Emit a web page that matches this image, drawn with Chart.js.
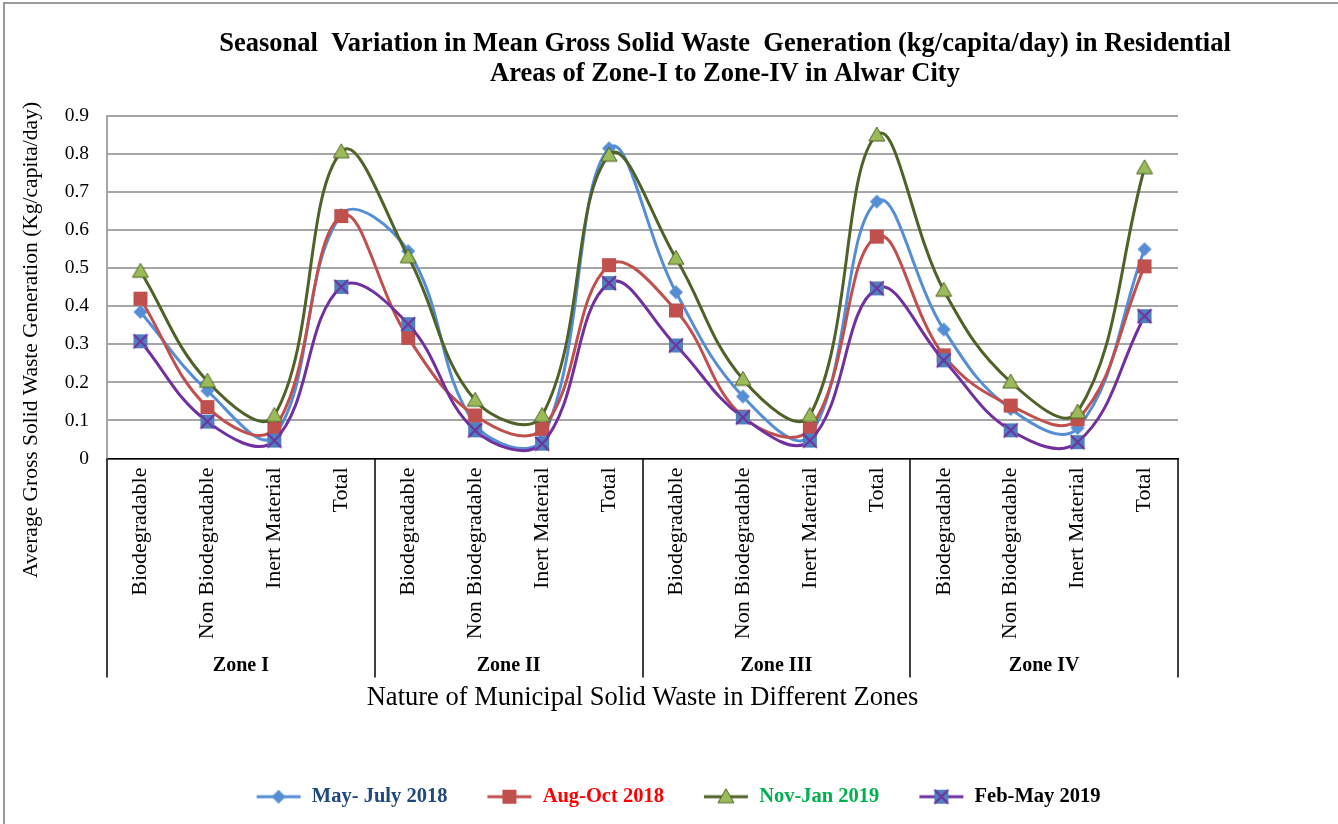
<!DOCTYPE html>
<html lang="en">
<head>
  <meta charset="UTF-8" />
  <title>Seasonal Variation in Mean Gross Solid Waste Generation</title>
  <script src="https://cdn.jsdelivr.net/npm/chart.js"></script>
  <style>
    *{margin:0;padding:0;box-sizing:border-box}
    html,body{width:1338px;height:824px;overflow:hidden;background:#fff}
    .frame{position:absolute;left:3px;top:2px;width:1400px;height:900px;border-left:2px solid #9a9a9a;border-top:2px solid #9a9a9a}
    .wrap{position:absolute;left:0;top:0;width:1338px;height:824px}
  </style>
</head>
<body>
  <div class="frame"></div>
  <div class="wrap"><canvas id="wasteChart"></canvas></div>

  <script>
    const zones = ['Zone I', 'Zone II', 'Zone III', 'Zone IV'];
    const wasteTypes = ['Biodegradable', 'Non Biodegradable', 'Inert Material', 'Total'];
    const categories = zones.flatMap(() => wasteTypes);

    const seriesNames = ['May- July 2018', 'Aug-Oct 2018', 'Nov-Jan 2019', 'Feb-May 2019'];
    const mayJul2018 = [0.385, 0.178, 0.060, 0.640, 0.545, 0.090, 0.050, 0.815, 0.437, 0.163, 0.060, 0.675, 0.339, 0.130, 0.080, 0.550];
    const augOct2018 = [0.420, 0.135, 0.079, 0.637, 0.317, 0.113, 0.078, 0.508, 0.389, 0.110, 0.078, 0.583, 0.271, 0.139, 0.103, 0.505];
    const novJan2019 = [0.492, 0.203, 0.113, 0.806, 0.530, 0.153, 0.113, 0.797, 0.526, 0.208, 0.113, 0.850, 0.442, 0.201, 0.122, 0.764];
    const febMay2019 = [0.308, 0.097, 0.047, 0.451, 0.353, 0.074, 0.039, 0.461, 0.297, 0.108, 0.047, 0.447, 0.258, 0.074, 0.043, 0.374];
    const yTicks = [0, 0.1, 0.2, 0.3, 0.4, 0.5, 0.6, 0.7, 0.8, 0.9];

    const titleLines = [
      'Seasonal  Variation in Mean Gross Solid Waste  Generation (kg/capita/day) in Residential',
      'Areas of Zone-I to Zone-IV in Alwar City'
    ];
    const SERIF = '"Liberation Serif", "Times New Roman", serif';

    // marker drawers, reused for the points and the legend icons
    function drawMarker(ctx, kind, cx, cy) {
      ctx.save();
      if (kind === 'diamond') {
        ctx.fillStyle = '#558ED5';
        ctx.beginPath();
        ctx.moveTo(cx, cy - 7); ctx.lineTo(cx + 7, cy); ctx.lineTo(cx, cy + 7); ctx.lineTo(cx - 7, cy);
        ctx.closePath(); ctx.fill();
      } else if (kind === 'square') {
        ctx.fillStyle = '#C0504D';
        ctx.fillRect(cx - 7, cy - 7, 14, 14);
      } else if (kind === 'triangle') {
        ctx.fillStyle = '#9BBB59'; ctx.strokeStyle = '#4F6228'; ctx.lineWidth = 1;
        ctx.beginPath();
        ctx.moveTo(cx, cy - 8); ctx.lineTo(cx + 8, cy + 6); ctx.lineTo(cx - 8, cy + 6);
        ctx.closePath(); ctx.fill(); ctx.stroke();
      } else {
        ctx.fillStyle = '#4F81BD';
        ctx.fillRect(cx - 7, cy - 7, 14, 14);
        ctx.strokeStyle = '#7030A0'; ctx.lineWidth = 2;
        ctx.beginPath();
        ctx.moveTo(cx - 7, cy - 7); ctx.lineTo(cx + 7, cy + 7);
        ctx.moveTo(cx + 7, cy - 7); ctx.lineTo(cx - 7, cy + 7);
        ctx.stroke();
      }
      ctx.restore();
    }

    function pointIcon(kind) {
      const c = document.createElement('canvas');
      c.width = 18; c.height = 18;
      drawMarker(c.getContext('2d'), kind, 9, 9);
      return c;
    }

    function legendIcon(kind, color) {
      const c = document.createElement('canvas');
      c.width = 46; c.height = 18;
      const g = c.getContext('2d');
      g.strokeStyle = color; g.lineWidth = 3;
      g.beginPath(); g.moveTo(1, 9); g.lineTo(45, 9); g.stroke();
      drawMarker(g, kind, 23, 9);
      return c;
    }

    const lineColors = ['#558ED5', '#C0504D', '#4F6228', '#7030A0'];
    const markerKinds = ['diamond', 'square', 'triangle', 'xsquare'];
    const legendTextColors = ['#1F497D', '#FF0000', '#00B050', '#000000'];
    const legendIcons = markerKinds.map((k, i) => legendIcon(k, lineColors[i]));

    // title, y axis title, zone boxes under the category labels
    const decorations = {
      id: 'decorations',
      afterDraw(chart) {
        const { ctx, chartArea } = chart;
        const x = chart.scales.x;
        ctx.save();
        ctx.fillStyle = '#000';
        ctx.textAlign = 'center';
        ctx.textBaseline = 'middle';
        ctx.font = 'bold 26.5px ' + SERIF;
        titleLines.forEach((t, i) => ctx.fillText(t, 725, 44 + i * 30));

        ctx.save();
        ctx.translate(31, 340);
        ctx.rotate(-Math.PI / 2);
        ctx.font = '21.5px ' + SERIF;
        ctx.fillText('Average Gross Solid Waste Generation (Kg/capita/day)', 0, 0);
        ctx.restore();

        ctx.strokeStyle = '#000';
        ctx.lineWidth = 1.5;
        for (let i = 0; i <= zones.length; i++) {
          const px = Math.round(x.getPixelForValue(i * wasteTypes.length - 0.5));
          ctx.beginPath();
          ctx.moveTo(px, chartArea.bottom);
          ctx.lineTo(px, chartArea.bottom + 219);
          ctx.stroke();
        }
        ctx.font = 'bold 20px ' + SERIF;
        zones.forEach((z, i) => {
          const cx = x.getPixelForValue(i * wasteTypes.length + 1.5);
          ctx.fillText(z, cx, chartArea.bottom + 207);
        });
        ctx.restore();
      }
    };

    const seriesData = [mayJul2018, augOct2018, novJan2019, febMay2019];

    new Chart(document.getElementById('wasteChart'), {
      type: 'line',
      data: {
        labels: categories,
        datasets: seriesData.map((d, i) => ({
          label: seriesNames[i],
          data: d,
          borderColor: lineColors[i],
          backgroundColor: lineColors[i],
          borderWidth: 3,
          tension: 0.4,
          pointStyle: pointIcon(markerKinds[i]),
          pointRadius: 8,
          order: seriesData.length - i,
          yAxisID: 'y'
        }))
      },
      options: {
        responsive: true,
        maintainAspectRatio: false,
        animation: false,
        layout: { padding: { left: 18, right: 0, top: 116, bottom: 7 } },
        plugins: {
          title: { display: false },
          tooltip: { enabled: false },
          legend: {
            position: 'bottom',
            labels: {
              usePointStyle: true,
              pointStyleWidth: 46,
              padding: 39,
              font: { family: SERIF, size: 20.5, weight: 'bold' },
              sort: (a, b) => a.datasetIndex - b.datasetIndex,
              generateLabels(chart) {
                const items = Chart.defaults.plugins.legend.labels.generateLabels(chart);
                items.forEach(it => {
                  it.pointStyle = legendIcons[it.datasetIndex];
                  it.fontColor = legendTextColors[it.datasetIndex];
                });
                return items;
              }
            }
          }
        },
        scales: {
          x: {
            offset: true,
            grid: { display: false },
            border: { color: '#000', width: 1.5 },
            ticks: {
              color: '#000',
              font: { family: SERIF, size: 22 },
              maxRotation: 90,
              minRotation: 90,
              autoSkip: false,
              padding: 1
            },
            title: {
              display: true,
              text: 'Nature of Municipal Solid Waste in Different Zones',
              color: '#000',
              font: { family: SERIF, size: 26.5 },
              padding: { top: 0, bottom: 34 }
            },
            afterFit: s => { s.height = 289; }
          },
          y: {
            min: 0,
            max: 0.9,
            afterBuildTicks: s => { s.ticks = yTicks.map(v => ({ value: v })); },
            grid: { color: '#A6A6A6', lineWidth: 2, drawTicks: false },
            border: { color: '#A6A6A6', width: 2 },
            ticks: {
              color: '#000',
              font: { family: SERIF, size: 19.5 },
              padding: 18,
              callback: v => v === 0 ? '0' : v.toFixed(1)
            },
            afterFit: s => { s.width = 89; }
          },
          yRight: {
            position: 'right',
            display: true,
            grid: { display: false },
            border: { display: false },
            ticks: { display: false },
            afterFit: s => { s.width = 160; }
          }
        }
      },
      plugins: [decorations]
    });
  </script>
</body>
</html>
